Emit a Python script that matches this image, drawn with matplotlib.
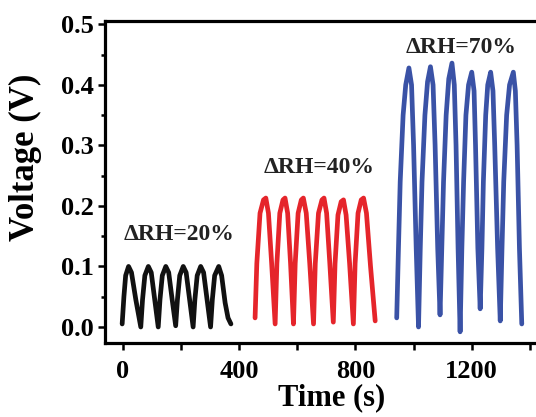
import matplotlib
matplotlib.use("Agg")
import matplotlib.pyplot as plt
from matplotlib.ticker import MultipleLocator

plt.rcParams['font.family'] = ['Liberation Serif', 'DejaVu Serif']
plt.rcParams['font.weight'] = 'bold'

# ΔRH = 20 %
t20 = [-2, 4, 10, 20, 30, 45, 62,
       68, 76, 88, 98, 110, 122,
       128, 136, 148, 158, 170, 182,
       188, 196, 208, 218, 230, 242,
       248, 256, 268, 278, 290, 302,
       308, 316, 330, 340, 352, 362, 372]
v20 = [0.005, 0.05, 0.085, 0.100, 0.090, 0.045, 0.000,
       0.045, 0.085, 0.100, 0.090, 0.045, 0.000,
       0.045, 0.085, 0.100, 0.090, 0.045, 0.002,
       0.045, 0.085, 0.100, 0.090, 0.045, 0.000,
       0.045, 0.085, 0.100, 0.090, 0.045, 0.000,
       0.045, 0.085, 0.100, 0.085, 0.040, 0.015, 0.005]

# ΔRH = 40 %
t40 = [455, 461, 472, 484, 492, 501, 512, 524,
       530, 540, 551, 558, 567, 577, 587,
       593, 603, 614, 621, 631, 643, 656,
       662, 673, 685, 692, 701, 712, 724,
       730, 740, 751, 759, 768, 780, 793,
       799, 809, 820, 828, 838, 852, 868]
v40 = [0.015, 0.105, 0.188, 0.210, 0.213, 0.188, 0.105, 0.005,
       0.105, 0.188, 0.210, 0.213, 0.188, 0.105, 0.005,
       0.105, 0.188, 0.210, 0.213, 0.188, 0.105, 0.005,
       0.105, 0.188, 0.210, 0.213, 0.188, 0.105, 0.008,
       0.105, 0.185, 0.207, 0.210, 0.185, 0.105, 0.005,
       0.105, 0.188, 0.210, 0.213, 0.188, 0.100, 0.010]

# ΔRH = 70 %
t70 = [942, 948, 954, 964, 973, 984, 993, 1000, 1009, 1017,
       1023, 1029, 1039, 1048, 1058, 1067, 1074, 1083, 1091,
       1097, 1103, 1112, 1121, 1132, 1140, 1146, 1153, 1160,
       1166, 1172, 1180, 1189, 1200, 1208, 1213, 1221, 1229,
       1235, 1240, 1248, 1255, 1265, 1273, 1279, 1289, 1298,
       1304, 1310, 1320, 1330, 1343, 1350, 1356, 1364, 1372]
v70 = [0.015, 0.13, 0.24, 0.35, 0.400, 0.428, 0.400, 0.30, 0.13, 0.000,
       0.13, 0.24, 0.35, 0.405, 0.430, 0.400, 0.30, 0.13, 0.020,
       0.13, 0.24, 0.35, 0.410, 0.436, 0.400, 0.30, 0.13, -0.008,
       0.13, 0.24, 0.35, 0.400, 0.421, 0.390, 0.30, 0.13, 0.030,
       0.13, 0.24, 0.35, 0.400, 0.421, 0.390, 0.30, 0.13, 0.010,
       0.13, 0.24, 0.35, 0.400, 0.421, 0.390, 0.30, 0.13, 0.005]

series = [(t20, v20, '#111111', 'ΔRH=20%', 195, 0.152),
          (t40, v40, '#e5252b', 'ΔRH=40%', 675, 0.264),
          (t70, v70, '#3a52a6', 'ΔRH=70%', 1162, 0.461)]

fig = plt.figure(figsize=(5.36, 4.17), dpi=100)
ax = fig.add_axes([0.1959, 0.1767, 0.847, 0.7736])

for t, v, c, lab, lx, ly in series:
    ax.plot(t, v, color=c, lw=3.4, solid_joinstyle='round', solid_capstyle='round')
    ax.text(lx, ly, lab, color='#222222', fontsize=17, fontweight='bold',
            ha='center', va='center')

ax.set_xlim(-61, 1500)
ax.set_ylim(-0.027, 0.506)
ax.xaxis.set_major_locator(MultipleLocator(400))
ax.xaxis.set_minor_locator(MultipleLocator(200))
ax.yaxis.set_major_locator(MultipleLocator(0.1))
ax.yaxis.set_minor_locator(MultipleLocator(0.05))
ax.yaxis.set_major_formatter(matplotlib.ticker.FormatStrFormatter('%.1f'))

for s in ax.spines.values():
    s.set_linewidth(2.3)
ax.tick_params(which='both', direction='out', width=1.8, labelsize=19)
ax.tick_params(axis='x', which='major', length=5, pad=7)
ax.tick_params(axis='x', which='minor', length=5)
ax.tick_params(axis='y', which='major', length=5, pad=3)
ax.tick_params(axis='y', which='minor', length=3)

ax.set_xlabel('Time (s)', fontsize=22, fontweight='bold', labelpad=0)
ax.set_ylabel('Voltage (V)', fontsize=25, fontweight='bold')
ax.yaxis.set_label_coords(-0.139, 0.578)

fig.savefig('out.png', dpi=100)
